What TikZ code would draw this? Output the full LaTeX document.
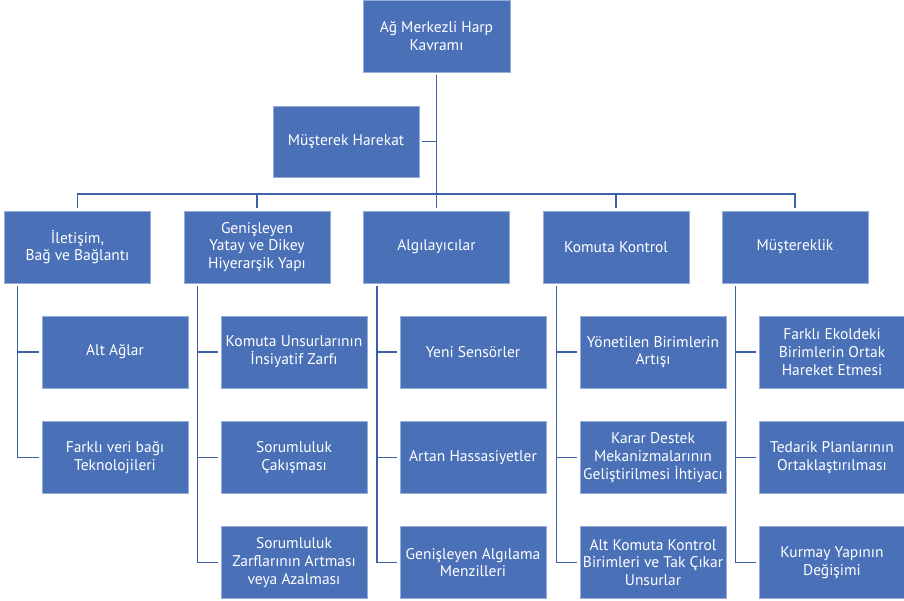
\documentclass[tikz,border=0pt]{standalone}
\usepackage{fontspec}
\setmainfont{PT Sans}
\definecolor{boxfill}{RGB}{74,112,183}
\definecolor{boxedge}{RGB}{150,173,216}
\definecolor{linkcol}{RGB}{62,98,170}
\begin{document}
\begin{tikzpicture}[x=1pt,y=-1pt,
  box/.style={rectangle, fill=boxfill, draw=boxedge, line width=0.8pt,
    minimum width=146pt, minimum height=72pt, inner sep=1pt, outer sep=3pt,
    text=white, align=center, font=\fontsize{15.5}{17.7}\selectfont},
  link/.style={draw=linkcol, line width=1.7pt}]
\useasboundingbox (0,0) rectangle (904,601);

% root and side node
\node[box, minimum width=147pt] (top) at (436.5,36) {Ağ Merkezli Harp\\Kavramı};
\node[box, minimum height=71pt] (mh) at (346,141.5) {Müşterek Harekat};

% first level
\node[box] (c1) at (77.5,247) {İletişim,\\Bağ ve Bağlantı};
\node[box] (c2) at (257,247) {Genişleyen\\Yatay ve Dikey\\Hiyerarşik Yapı};
\node[box] (c3) at (436.5,247) {Algılayıcılar};
\node[box] (c4) at (616,247) {Komuta Kontrol};
\node[box] (c5) at (795,247) {Müştereklik};

% second level
\node[box] (k11) at (115,352) {Alt Ağlar};
\node[box] (k12) at (115,457.5) {Farklı veri bağı\\Teknolojileri};

\node[box] (k21) at (294,352) {Komuta Unsurlarının\\İnsiyatif Zarfı};
\node[box] (k22) at (294,457.5) {Sorumluluk\\Çakışması};
\node[box] (k23) at (294,562.5) {Sorumluluk\\Zarflarının Artması\\veya Azalması};

\node[box] (k31) at (473,352) {Yeni Sensörler};
\node[box] (k32) at (473,457.5) {Artan Hassasiyetler};
\node[box] (k33) at (473,562.5) {Genişleyen Algılama\\Menzilleri};

\node[box] (k41) at (653,352) {Yönetilen Birimlerin\\Artışı};
\node[box] (k42) at (653,457.5) {Karar Destek\\Mekanizmalarının\\Geliştirilmesi İhtiyacı};
\node[box] (k43) at (653,562.5) {Alt Komuta Kontrol\\Birimleri ve Tak Çıkar\\Unsurlar};

\node[box] (k51) at (832,352) {Farklı Ekoldeki\\Birimlerin Ortak\\Hareket Etmesi};
\node[box] (k52) at (832,457.5) {Tedarik Planlarının\\Ortaklaştırılması};
\node[box] (k53) at (832,562.5) {Kurmay Yapının\\Değişimi};

% trunk, side branch and bus
\draw[link] (top.south) -- (c3.north);
\draw[link] (mh.east) -- (mh.east -| top.south);
\draw[link] (c1.north) -- ++(0,-14) -| (c5.north);
\draw[link] (c2.north) -- ++(0,-14);
\draw[link] (c4.north) -- ++(0,-14);

% child rails
\draw[link] ([xshift=16pt]c1.south west) |- (k12.west);
\draw[link] ([xshift=16pt]c1.south west) |- (k11.west);
\foreach \p in {2,3,4,5}{
  \draw[link] ([xshift=16.5pt]c\p.south west) |- (k\p3.west);
  \draw[link] ([xshift=16.5pt]c\p.south west) |- (k\p2.west);
  \draw[link] ([xshift=16.5pt]c\p.south west) |- (k\p1.west);
}
\end{tikzpicture}
\end{document}
